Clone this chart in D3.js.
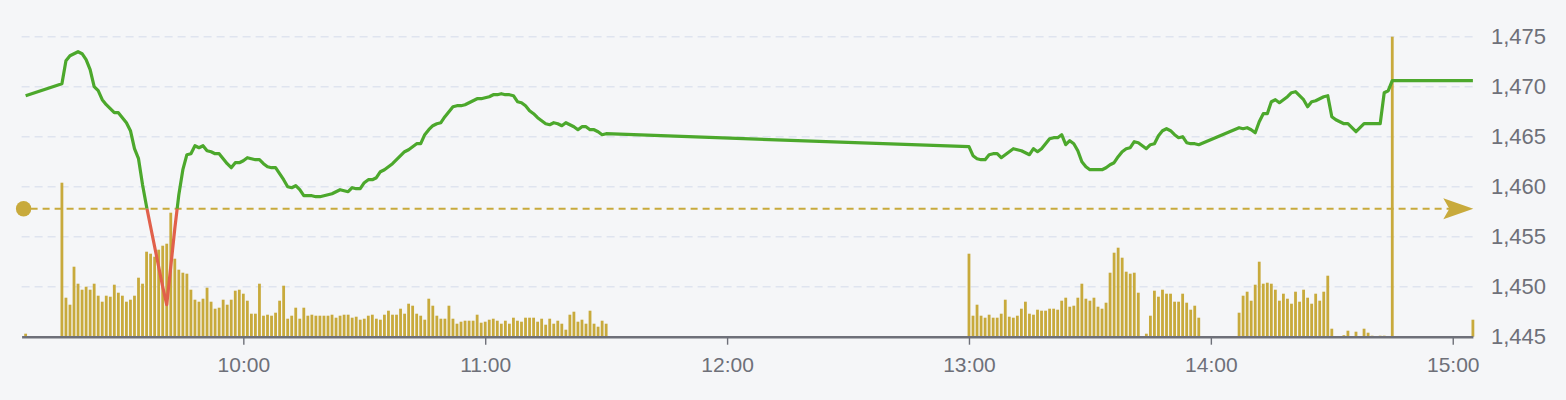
<!DOCTYPE html>
<html>
<head>
<meta charset="utf-8">
<script src="https://cdn.jsdelivr.net/npm/d3@7"></script>
<style>
  html, body { margin: 0; padding: 0; background: #f5f6f8; }
  svg { display: block; }
  text { font-family: "Liberation Sans", Arial, Helvetica, sans-serif; }
</style>
</head>
<body>
<svg id="chart" width="1566" height="400"></svg>
<script>
// ---------------- DATA ----------------
function minuteLabels(startH, startM, count) {
  return d3.range(0, count).map(i => {
    const m = startH * 60 + startM + i;
    return String(Math.floor(m / 60)).padStart(2, "0") + ":" + String(m % 60).padStart(2, "0");
  });
}
const morningTimes = ["09:06"].concat(minuteLabels(9, 15, 136));
const afternoonTimes = minuteLabels(13, 0, 58).concat(minuteLabels(14, 7, 39)).concat(["15:05"]);
const times = morningTimes.concat(afternoonTimes);

const morningPrices = [
  1469.1,
  1470.3, 1472.6, 1473.1, 1473.3, 1473.5, 1473.3, 1472.7, 1471.7, 1470.0, 1469.6,
  1468.7, 1468.2, 1467.8, 1467.4, 1467.4, 1466.9, 1466.4, 1465.6, 1463.8, 1462.8,
  1460.2, 1458.0, 1456.0, 1454.0, 1452.0, 1450.0, 1448.2, 1452.0, 1455.8, 1459.2,
  1461.7, 1463.2, 1463.3, 1464.1, 1463.9, 1464.1, 1463.6, 1463.5, 1463.3, 1463.3,
  1462.8, 1462.3, 1461.9, 1462.4, 1462.4,
  1462.6, 1462.9, 1462.8, 1462.7, 1462.7, 1462.3, 1462.0, 1461.9, 1461.9, 1461.3,
  1460.7, 1460.0, 1459.9, 1460.1, 1459.7, 1459.1, 1459.1, 1459.1, 1459.0, 1459.0,
  1459.1, 1459.2, 1459.3, 1459.5, 1459.7, 1459.6, 1459.5, 1459.9, 1459.8, 1459.8,
  1460.4, 1460.7, 1460.7, 1460.9, 1461.5, 1461.7, 1462.0, 1462.3, 1462.7, 1463.1,
  1463.5, 1463.7, 1464.0, 1464.3, 1464.3, 1465.2, 1465.7, 1466.1, 1466.3, 1466.4,
  1467.0, 1467.5, 1468.0, 1468.1, 1468.1, 1468.2, 1468.4, 1468.6, 1468.8, 1468.8,
  1468.9, 1469.0, 1469.2, 1469.2, 1469.3, 1469.2, 1469.2, 1469.1, 1468.5, 1468.4,
  1468.1, 1467.6, 1467.3, 1466.9, 1466.6, 1466.3, 1466.2, 1466.4, 1466.3, 1466.1,
  1466.4, 1466.2, 1466.0, 1465.7, 1466.0, 1466.0, 1465.7, 1465.7, 1465.5, 1465.2,
  1465.3
];
const afternoonPrices = [
  1464.0, 1463.1, 1462.8, 1462.7, 1462.7, 1463.2, 1463.3, 1463.3, 1462.9, 1463.2,
  1463.5, 1463.8, 1463.7, 1463.6, 1463.4, 1463.2, 1463.8, 1463.5, 1463.8, 1464.3,
  1464.8, 1464.9, 1464.9, 1465.2, 1464.2, 1464.6, 1464.3, 1463.6, 1462.5, 1462.0,
  1461.7, 1461.7, 1461.7, 1461.7, 1461.9, 1462.2, 1462.4, 1463.0, 1463.5, 1463.8,
  1463.9, 1464.5, 1464.4, 1464.1, 1463.8, 1464.2, 1464.3, 1465.1, 1465.6, 1465.8,
  1465.6, 1465.2, 1464.9, 1465.0, 1464.4, 1464.3, 1464.3, 1464.2,
  1465.9, 1465.8, 1465.9, 1465.7, 1465.4, 1466.5, 1467.3, 1467.3, 1468.5, 1468.7,
  1468.4, 1468.7, 1469.0, 1469.4, 1469.5, 1469.1, 1468.7, 1468.0, 1468.5, 1468.6,
  1468.8, 1469.0, 1469.1, 1467.0, 1466.7, 1466.5, 1466.3, 1466.3, 1465.9, 1465.5,
  1465.9, 1466.3, 1466.3, 1466.3, 1466.3, 1466.3, 1469.4, 1469.6, 1470.6,
  1470.6
];
const prices = morningPrices.concat(afternoonPrices);

const morningVolumes = [
  3,
  154, 39, 32, 70, 53, 47, 50, 47, 53, 41,
  35, 41, 40, 52, 44, 41, 35, 37, 41, 59,
  53, 85, 83, 80, 87, 91, 93, 124, 78, 67,
  64, 63, 47, 37, 35, 38, 49, 35, 28, 29,
  37, 32, 37, 46, 47,
  43, 36, 23, 23, 53, 21, 22, 21, 24, 36,
  51, 18, 21, 29, 18, 29, 21, 22, 21, 21,
  21, 21, 22, 19, 21, 22, 22, 19, 20, 17,
  18, 21, 22, 18, 17, 22, 26, 22, 22, 28,
  23, 33, 31, 23, 21, 17, 38, 31, 21, 18,
  18, 31, 18, 13, 15, 16, 16, 16, 22, 14,
  15, 17, 18, 16, 13, 16, 13, 19, 16, 15,
  19, 19, 19, 15, 18, 12, 18, 13, 16, 13,
  7, 22, 25, 15, 17, 13, 26, 13, 10, 16,
  13
];
const afternoonVolumes = [
  83, 21, 32, 21, 19, 22, 19, 19, 23, 37,
  20, 19, 21, 28, 35, 23, 22, 27, 26, 26,
  28, 28, 27, 36, 39, 30, 31, 39, 53, 38,
  36, 39, 30, 28, 34, 64, 84, 89, 79, 65,
  63, 64, 44, 0, 3, 21, 46, 40, 47, 43,
  43, 35, 35, 43, 34, 27, 31, 19,
  24, 41, 45, 36, 52, 75, 53, 54, 53, 47,
  36, 43, 38, 33, 45, 35, 47, 39, 33, 43,
  36, 45, 61, 8, 0, 0, 1.5, 6, 0, 5,
  0, 8, 4, 1, 0, 1, 1, 0, 300,
  17
];
const volumes = morningVolumes.concat(afternoonVolumes);

const referencePrice = 1457.8;
const xDomain = ["09:05", "15:05"];
const xTickLabels = ["10:00", "11:00", "12:00", "13:00", "14:00", "15:00"];
const yTicks = [1445, 1450, 1455, 1460, 1465, 1470, 1475];
const volumeMax = 300;

// ---------------- CHART ----------------
(function () {
const parse = d3.timeParse("%H:%M");
const data = times.map((t, i) => ({ t: parse(t), p: prices[i], v: volumes[i] }));

const svg = d3.select("#chart");
const W = 1566, H = 400;
const pLeft = 21.6, pRight = 1472.9, pTop = 36.7, pBottom = 336.7;

svg.append("rect").attr("width", W).attr("height", H).attr("fill", "#f5f6f8");

const x = d3.scaleTime().domain(xDomain.map(parse)).range([pLeft, pRight]);
const y = d3.scaleLinear().domain([yTicks[0], yTicks[yTicks.length - 1]]).range([pBottom, pTop]);
const yv = d3.scaleLinear().domain([0, volumeMax]).range([pBottom, pTop]);

const gold = "#c8aa3c";
const green = "#4ca82c";
const red = "#e1604b";
const axisGray = "#6e7079";

// grid
svg.append("g").selectAll("line").data(yTicks.slice(1)).join("line")
  .attr("x1", pLeft).attr("x2", pRight)
  .attr("y1", d => y(d)).attr("y2", d => y(d))
  .attr("stroke", "#dfe4ef").attr("stroke-width", 1.4)
  .attr("stroke-dasharray", "8,5");

// volume bars
const barW = 2.8;
svg.append("g").selectAll("rect").data(data.filter(d => d.v > 0)).join("rect")
  .attr("x", d => x(d.t) - barW / 2)
  .attr("width", barW)
  .attr("y", d => yv(Math.min(d.v, volumeMax)))
  .attr("height", d => pBottom - yv(Math.min(d.v, volumeMax)))
  .attr("fill", gold);

// reference line
const yRef = y(referencePrice);
svg.append("line")
  .attr("x1", pLeft + 9).attr("x2", pRight - 20)
  .attr("y1", yRef).attr("y2", yRef)
  .attr("stroke", gold).attr("stroke-width", 2)
  .attr("stroke-dasharray", "7,5");
svg.append("circle").attr("cx", pLeft + 2).attr("cy", yRef).attr("r", 7.7).attr("fill", gold);
const ax = pRight + 0.4;
svg.append("path")
  .attr("d", `M${ax},${yRef} L${ax - 30},${yRef - 10.5} L${ax - 24},${yRef} L${ax - 30},${yRef + 10.5} Z`)
  .attr("fill", gold);

// price line, green above the reference, red below
const defs = svg.append("defs");
defs.append("clipPath").attr("id", "above").append("rect")
  .attr("x", 0).attr("y", 0).attr("width", W).attr("height", yRef);
defs.append("clipPath").attr("id", "below").append("rect")
  .attr("x", 0).attr("y", yRef).attr("width", W).attr("height", H - yRef);

const line = d3.line().x(d => x(d.t)).y(d => y(d.p));
svg.append("path").datum(data).attr("d", line)
  .attr("fill", "none").attr("stroke", green).attr("stroke-width", 3.2)
  .attr("stroke-linejoin", "round").attr("clip-path", "url(#above)");
svg.append("path").datum(data).attr("d", line)
  .attr("fill", "none").attr("stroke", red).attr("stroke-width", 3.2)
  .attr("stroke-linejoin", "round").attr("clip-path", "url(#below)");

// x axis
const xAxis = d3.axisBottom(x)
  .tickValues(xTickLabels.map(parse))
  .tickFormat(d3.timeFormat("%H:%M"))
  .tickSize(8).tickSizeOuter(0).tickPadding(12);
const gx = svg.append("g").attr("transform", `translate(0,${pBottom})`).call(xAxis);
gx.select(".domain").attr("stroke", axisGray).attr("stroke-width", 2.6);
gx.selectAll(".tick line").attr("stroke", axisGray).attr("stroke-width", 1.4);
gx.selectAll(".tick text").attr("fill", axisGray).attr("font-size", 21)
  .attr("font-family", "'Liberation Sans', Arial, sans-serif");

// y axis (labels on the right)
const yAxis = d3.axisRight(y).tickValues(yTicks).tickFormat(d3.format(",")).tickSize(0).tickPadding(0);
const gy = svg.append("g").attr("transform", `translate(${pRight + 18},0)`).call(yAxis);
gy.select(".domain").remove();
gy.selectAll(".tick text").attr("fill", axisGray).attr("font-size", 22)
  .attr("font-family", "'Liberation Sans', Arial, sans-serif");
})();
</script>
</body>
</html>
